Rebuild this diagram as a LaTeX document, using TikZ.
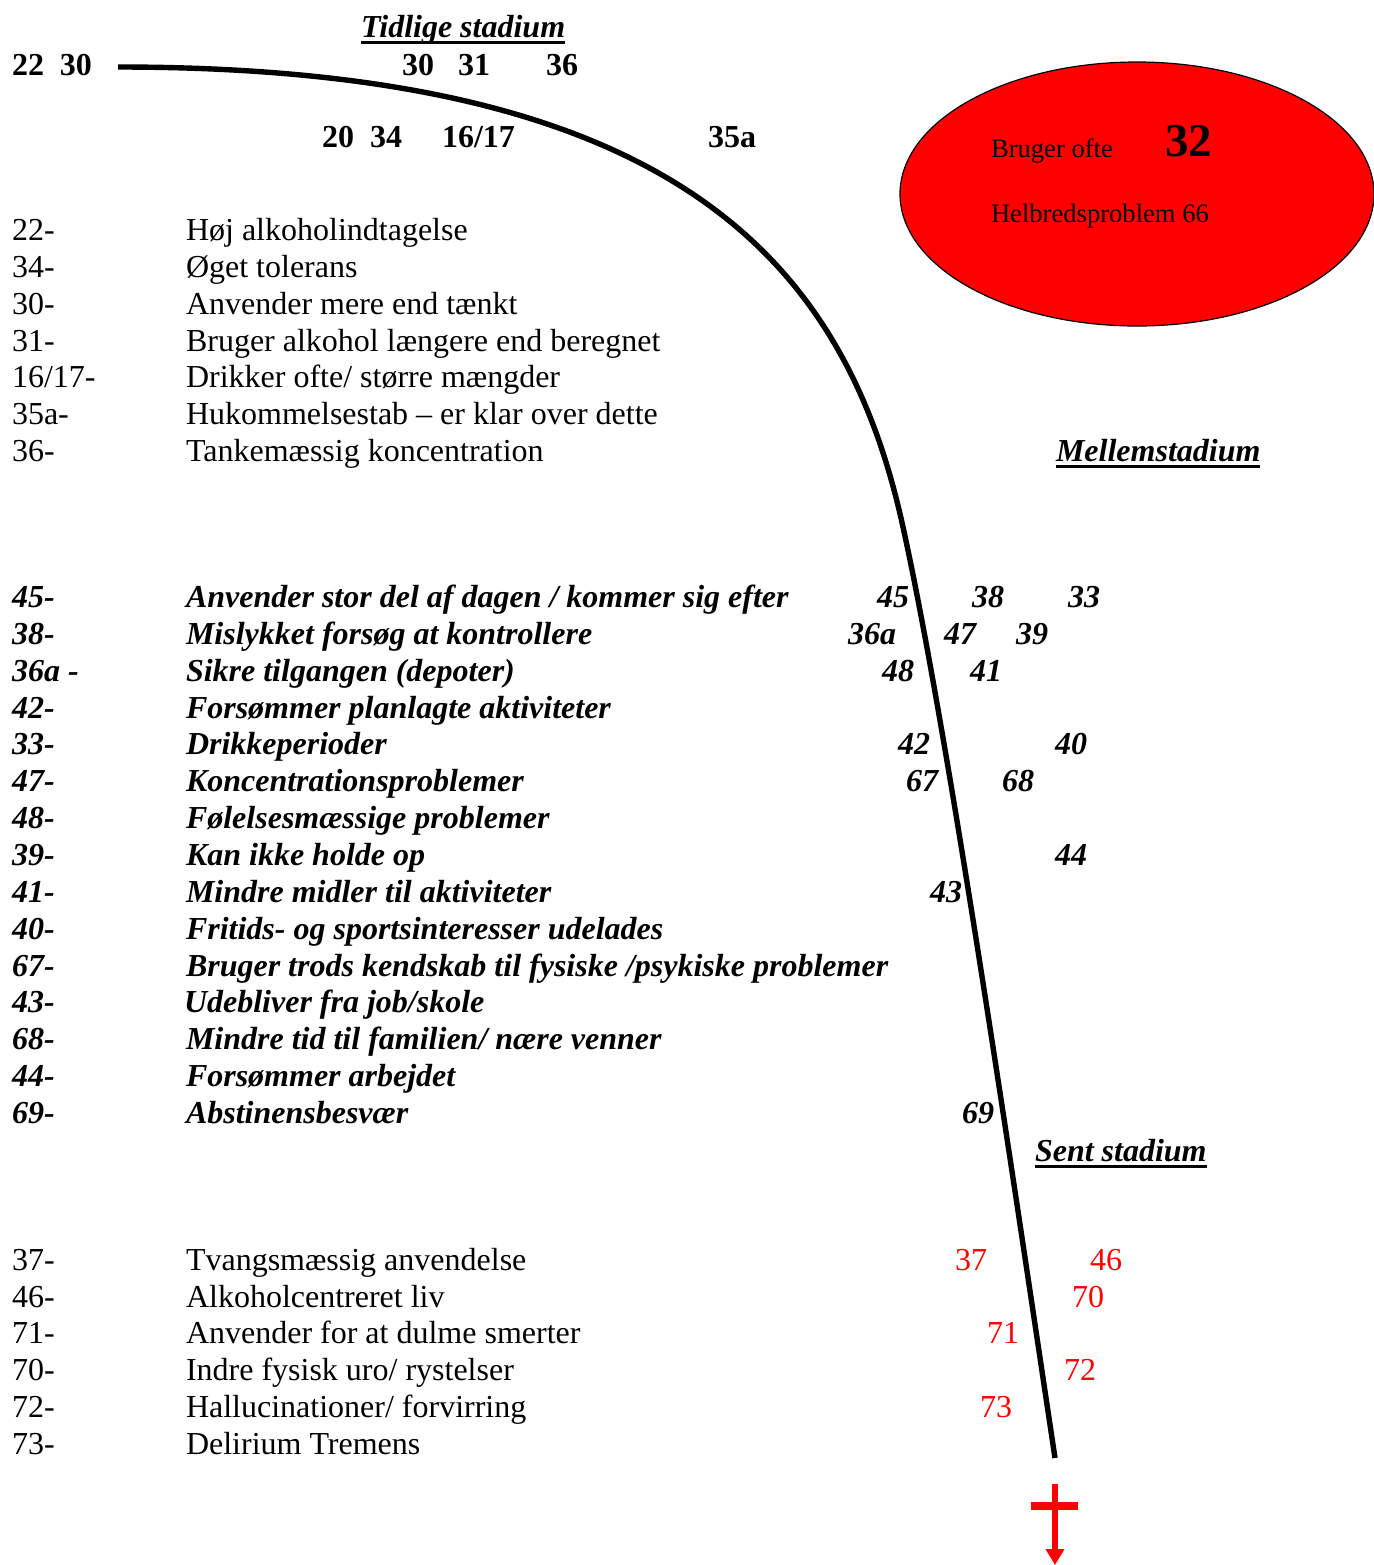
\documentclass[tikz,border=0pt]{standalone}
\usepackage{fontspec}
\setmainfont{Liberation Serif}
\usetikzlibrary{shapes.geometric,arrows.meta}
\begin{document}
\begin{tikzpicture}[x=0.5pt,y=-0.5pt,
  txt/.style={inner sep=0pt, outer sep=0pt, anchor=base west, font=\fontsize{16}{19}\selectfont},
  bi/.style={txt, font=\fontsize{16}{19}\selectfont\bfseries\itshape},
  bn/.style={txt, font=\fontsize{16}{19}\selectfont\bfseries},
  rn/.style={txt, text=red},
  small/.style={txt, font=\fontsize{13.3}{16}\selectfont},
  ul/.style={line width=1.5pt},
  curve/.style={line width=2.7pt},
  crossline/.style={draw=red, line width=3pt}]
\useasboundingbox (0,0) rectangle (1374,1565);

% ellipse
\node[ellipse, draw=black, fill=red, line width=0.6pt, minimum width=237pt, minimum height=132pt, inner sep=0pt] (ell) at (1137,194) {};
\node[small] (bo) at (991,157) {Bruger ofte};
\node[txt, font=\fontsize{23.5}{28}\selectfont\bfseries] (n32) at (1165,156) {32};
\node[small] (hp) at (991,222) {Helbredsproblem 66};

% curve
\coordinate (cs) at (118,67);
\coordinate (cm) at (903,527);
\coordinate (ce) at (1055,1458);
\draw[curve] (cs) .. controls (670,67) and (844,257) .. (cm)
                  .. controls (947,727) and (1010,1158) .. (ce);

% cross
\coordinate (xt) at (1055,1484);
\coordinate (xb) at (1055,1565);
\coordinate (xl) at (1031,1506);
\coordinate (xr) at (1078,1506);
\draw[crossline, -{Triangle[width=9pt,length=8pt]}] (xt) -- (xb);
\draw[draw=red, line width=4pt] (xl) -- (xr);

% headings
\node[bi] (tid) at (361,37) {Tidlige stadium};
\draw[ul] ([yshift=-2.5pt]tid.base west) -- ([yshift=-2.5pt]tid.base east);
\node[bi] (mel) at (1056,461) {Mellemstadium};
\draw[ul] ([yshift=-2.5pt]mel.base west) -- ([yshift=-2.5pt]mel.base east);
\node[bi] (sent) at (1035,1161) {Sent stadium};
\draw[ul] ([yshift=-2.5pt]sent.base west) -- ([yshift=-2.5pt]sent.base east);

% top numbers
\node[bn] (t22) at (12,75) {22};
\node[bn] (t30a) at (60,75) {30};
\node[bn] (t30b) at (402,75) {30};
\node[bn] (t31) at (458,75) {31};
\node[bn] (t36) at (546,75) {36};
\node[bn] (t20) at (322,147) {20};
\node[bn] (t34) at (370,147) {34};
\node[bn] (t1617) at (442,147) {16/17};
\node[bn] (t35a) at (708,147) {35a};

% early list
\node[txt] (a0) at (12,240) {22-};   \node[txt] (b0) at (186,240) {Høj alkoholindtagelse};
\node[txt] (a1) at (12,277) {34-};   \node[txt] (b1) at (186,277) {Øget tolerans};
\node[txt] (a2) at (12,314) {30-};   \node[txt] (b2) at (186,314) {Anvender mere end tænkt};
\node[txt] (a3) at (12,351) {31-};   \node[txt] (b3) at (186,351) {Bruger alkohol længere end beregnet};
\node[txt] (a4) at (12,387) {16/17-};\node[txt] (b4) at (186,387) {Drikker ofte/ større mængder};
\node[txt] (a5) at (12,424) {35a-};  \node[txt] (b5) at (186,424) {Hukommelsestab – er klar over dette};
\node[txt] (a6) at (12,461) {36-};   \node[txt] (b6) at (186,461) {Tankemæssig koncentration};

% middle list
\node[bi] (c0) at (12,607) {45-};   \node[bi] (d0) at (186,607) {Anvender stor del af dagen / kommer sig efter};
\node[bi] (c1) at (12,644) {38-};   \node[bi] (d1) at (186,644) {Mislykket forsøg at kontrollere};
\node[bi] (c2) at (12,681) {36a -}; \node[bi] (d2) at (186,681) {Sikre tilgangen (depoter)};
\node[bi] (c3) at (12,718) {42-};   \node[bi] (d3) at (186,718) {Forsømmer planlagte aktiviteter};
\node[bi] (c4) at (12,754) {33-};   \node[bi] (d4) at (186,754) {Drikkeperioder};
\node[bi] (c5) at (12,791) {47-};   \node[bi] (d5) at (186,791) {Koncentrationsproblemer};
\node[bi] (c6) at (12,828) {48-};   \node[bi] (d6) at (186,828) {Følelsesmæssige problemer};
\node[bi] (c7) at (12,865) {39-};   \node[bi] (d7) at (186,865) {Kan ikke holde op};
\node[bi] (c8) at (12,902) {41-};   \node[bi] (d8) at (186,902) {Mindre midler til aktiviteter};
\node[bi] (c9) at (12,939) {40-};   \node[bi] (d9) at (186,939) {Fritids- og sportsinteresser udelades};
\node[bi] (c10) at (12,976) {67-};  \node[bi] (d10) at (186,976) {Bruger trods kendskab til fysiske /psykiske problemer};
\node[bi] (c11) at (12,1012) {43-}; \node[bi] (d11) at (184,1012) {Udebliver fra job/skole};
\node[bi] (c12) at (12,1049) {68-}; \node[bi] (d12) at (186,1049) {Mindre tid til familien/ nære venner};
\node[bi] (c13) at (12,1086) {44-}; \node[bi] (d13) at (186,1086) {Forsømmer arbejdet};
\node[bi] (c14) at (12,1123) {69-}; \node[bi] (d14) at (186,1123) {Abstinensbesvær};

% middle numbers near curve
\node[bi] (m45) at (877,607) {45};
\node[bi] (m38) at (972,607) {38};
\node[bi] (m33) at (1068,607) {33};
\node[bi] (m36a) at (848,644) {36a};
\node[bi] (m47) at (944,644) {47};
\node[bi] (m39) at (1016,644) {39};
\node[bi] (m48) at (882,681) {48};
\node[bi] (m41) at (970,681) {41};
\node[bi] (m42) at (898,754) {42};
\node[bi] (m40) at (1055,754) {40};
\node[bi] (m67) at (906,791) {67};
\node[bi] (m68) at (1002,791) {68};
\node[bi] (m44) at (1055,865) {44};
\node[bi] (m43) at (930,902) {43};
\node[bi] (m69) at (962,1123) {69};

% late list
\node[txt] (e0) at (12,1270) {37-}; \node[txt] (f0) at (186,1270) {Tvangsmæssig anvendelse};
\node[txt] (e1) at (12,1307) {46-}; \node[txt] (f1) at (186,1307) {Alkoholcentreret liv};
\node[txt] (e2) at (12,1343) {71-}; \node[txt] (f2) at (186,1343) {Anvender for at dulme smerter};
\node[txt] (e3) at (12,1380) {70-}; \node[txt] (f3) at (186,1380) {Indre fysisk uro/ rystelser};
\node[txt] (e4) at (12,1417) {72-}; \node[txt] (f4) at (186,1417) {Hallucinationer/ forvirring};
\node[txt] (e5) at (12,1454) {73-}; \node[txt] (f5) at (186,1454) {Delirium Tremens};

% red numbers
\node[rn] (r37) at (955,1270) {37};
\node[rn] (r46) at (1090,1270) {46};
\node[rn] (r70) at (1072,1307) {70};
\node[rn] (r71) at (987,1343) {71};
\node[rn] (r72) at (1064,1380) {72};
\node[rn] (r73) at (980,1417) {73};
\end{tikzpicture}
\end{document}
